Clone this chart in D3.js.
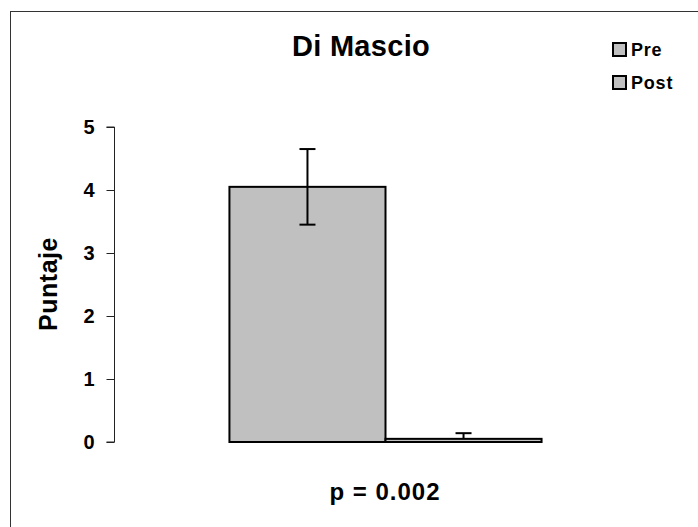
<!DOCTYPE html>
<html>
<head>
<meta charset="utf-8">
<script src="https://cdn.jsdelivr.net/npm/d3@7"></script>
<style>
  body { margin: 0; background: #fff; }
  text { font-family: "Liberation Sans", Arial, sans-serif; font-weight: bold; fill: #000; }
</style>
</head>
<body>
<script>
// chart data
var categories = ["Di Mascio"];
var series = ["Pre", "Post"];
var values = [4.05, 0.05];
var errors = [0.6, 0.09];
var yTicks = [0, 1, 2, 3, 4, 5];
var pLabel = "p = 0.002";

var width = 698, height = 527;

var svg = d3.select("body").append("svg")
  .attr("width", width)
  .attr("height", height);

// outer frame of the chart (runs off the right and bottom edge)
svg.append("rect")
  .attr("x", 10.5).attr("y", 11.5)
  .attr("width", 720).attr("height", 540)
  .attr("fill", "none")
  .attr("stroke", "#333")
  .attr("stroke-width", 1);

// scales
var yScale = d3.scaleLinear().domain([0, 5]).range([442, 127]);

var xGroup = d3.scaleBand()
  .domain(categories)
  .range([114, 657])
  .paddingInner(0.27)
  .paddingOuter(0.27);

var xSeries = d3.scaleBand()
  .domain(series)
  .range([0, xGroup.bandwidth()]);

// y axis
var yAxis = d3.axisLeft(yScale)
  .tickValues(yTicks)
  .tickFormat(d3.format("d"))
  .tickSize(8)
  .tickPadding(12);

var gy = svg.append("g")
  .attr("transform", "translate(114.5,0)")
  .call(yAxis);
gy.select(".domain").attr("stroke", "#222").attr("d", "M-8," + yScale(5) + "H0V" + yScale(0) + "H-8");
gy.selectAll(".tick line").attr("stroke", "#222");
gy.selectAll(".tick text")
  .style("font-size", "20px")
  .style("font-weight", "bold")
  .style("font-family", "Liberation Sans, Arial, sans-serif")
  .attr("fill", "#000");

// bars
var bars = svg.append("g");
series.forEach(function(s, i) {
  var x0 = xGroup(categories[0]) + xSeries(s);
  bars.append("rect")
    .attr("x", x0)
    .attr("y", yScale(values[i]))
    .attr("width", xSeries.bandwidth())
    .attr("height", yScale(0) - yScale(values[i]))
    .attr("fill", "#c0c0c0")
    .attr("stroke", "#000")
    .attr("stroke-width", 2);
});

// error bars (upper and lower)
series.forEach(function(s, i) {
  var cx = xGroup(categories[0]) + xSeries(s) + xSeries.bandwidth() / 2;
  var top = yScale(values[i] + errors[i]);
  var bottom = i == 0 ? yScale(values[i] - errors[i]) : yScale(values[i]);
  var cap = 8;
  bars.append("line")
    .attr("x1", cx).attr("x2", cx)
    .attr("y1", top).attr("y2", bottom)
    .attr("stroke", "#000").attr("stroke-width", 2);
  bars.append("line")
    .attr("x1", cx - cap).attr("x2", cx + cap)
    .attr("y1", top).attr("y2", top)
    .attr("stroke", "#000").attr("stroke-width", 2);
  if (i == 0) {
    bars.append("line")
      .attr("x1", cx - cap).attr("x2", cx + cap)
      .attr("y1", bottom).attr("y2", bottom)
      .attr("stroke", "#000").attr("stroke-width", 2);
  }
});

// title
svg.append("text")
  .attr("x", 361)
  .attr("y", 56)
  .attr("text-anchor", "middle")
  .style("font-size", "29px")
  .style("letter-spacing", "0.3px")
  .text(categories[0]);

// y axis title
svg.append("text")
  .attr("transform", "translate(57,284)rotate(-90)")
  .attr("text-anchor", "middle")
  .style("font-size", "25px")
  .style("letter-spacing", "0.5px")
  .text("Puntaje");

// p value under the bars
svg.append("text")
  .attr("x", 385)
  .attr("y", 500)
  .attr("text-anchor", "middle")
  .style("font-size", "24px")
  .style("letter-spacing", "1px")
  .text(pLabel);

// legend
var legend = svg.append("g");
series.forEach(function(s, i) {
  var ly = 43 + i * 33;
  legend.append("rect")
    .attr("x", 613).attr("y", ly)
    .attr("width", 13).attr("height", 13)
    .attr("fill", "#c0c0c0")
    .attr("stroke", "#000")
    .attr("stroke-width", 2);
  legend.append("text")
    .attr("x", 631)
    .attr("y", ly + 13)
    .style("font-size", "18px")
    .style("letter-spacing", "0.8px")
    .text(s);
});
</script>
</body>
</html>
